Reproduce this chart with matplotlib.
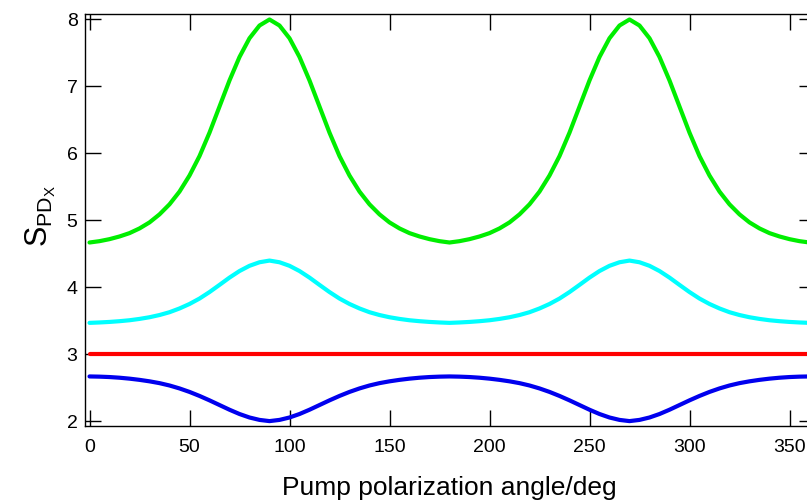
import matplotlib
matplotlib.use("Agg")
import matplotlib.pyplot as plt

plt.rcParams['font.family'] = ['Liberation Sans', 'DejaVu Sans']
plt.rcParams['mathtext.fontset'] = 'custom'
plt.rcParams['mathtext.rm'] = 'Liberation Sans'
plt.rcParams['mathtext.it'] = 'Liberation Sans'

angle = list(range(0, 361, 5))

green = [4.670, 4.690, 4.720, 4.760, 4.810, 4.880, 4.970, 5.090, 5.240, 5.430, 5.670, 5.960, 6.310, 6.700, 7.090, 7.440, 7.720, 7.910, 8.000,
         7.910, 7.720, 7.440, 7.090, 6.700, 6.310, 5.960, 5.670, 5.430, 5.240, 5.090, 4.970, 4.880, 4.810, 4.760, 4.720, 4.690, 4.670,
         4.690, 4.720, 4.760, 4.810, 4.880, 4.970, 5.090, 5.240, 5.430, 5.670, 5.960, 6.310, 6.700, 7.090, 7.440, 7.720, 7.910, 8.000,
         7.910, 7.720, 7.440, 7.090, 6.700, 6.310, 5.960, 5.670, 5.430, 5.240, 5.090, 4.970, 4.880, 4.810, 4.760, 4.720, 4.690, 4.670]

cyan = [3.470, 3.476, 3.484, 3.495, 3.509, 3.529, 3.554, 3.587, 3.629, 3.685, 3.752, 3.833, 3.930, 4.037, 4.146, 4.244, 4.322, 4.375, 4.400,
        4.375, 4.322, 4.244, 4.146, 4.037, 3.930, 3.833, 3.752, 3.685, 3.629, 3.587, 3.554, 3.529, 3.509, 3.495, 3.484, 3.476, 3.470,
        3.476, 3.484, 3.495, 3.509, 3.529, 3.554, 3.587, 3.629, 3.685, 3.752, 3.833, 3.930, 4.037, 4.146, 4.244, 4.322, 4.375, 4.400,
        4.375, 4.322, 4.244, 4.146, 4.037, 3.930, 3.833, 3.752, 3.685, 3.629, 3.587, 3.554, 3.529, 3.509, 3.495, 3.484, 3.476, 3.470]

blue = [2.670, 2.667, 2.661, 2.651, 2.637, 2.619, 2.597, 2.570, 2.535, 2.491, 2.439, 2.379, 2.313, 2.243, 2.173, 2.109, 2.057, 2.021, 2.003,
        2.021, 2.057, 2.109, 2.173, 2.243, 2.313, 2.379, 2.439, 2.491, 2.535, 2.570, 2.597, 2.619, 2.637, 2.651, 2.661, 2.667, 2.670,
        2.667, 2.661, 2.651, 2.637, 2.619, 2.597, 2.570, 2.535, 2.491, 2.439, 2.379, 2.313, 2.243, 2.173, 2.109, 2.057, 2.021, 2.003,
        2.021, 2.057, 2.109, 2.173, 2.243, 2.313, 2.379, 2.439, 2.491, 2.535, 2.570, 2.597, 2.619, 2.637, 2.651, 2.661, 2.667, 2.670]

red_x = [0, 360]
red = [3.0, 3.0]

xticks = [0, 50, 100, 150, 200, 250, 300, 350]
yticks = [2, 3, 4, 5, 6, 7, 8]

W, H = 807, 504
fig = plt.figure(figsize=(W / 100, H / 100), dpi=100)
ax = fig.add_axes([84.5 / W, (H - 426) / H, 730 / W, 412 / H])

lw = 3.0
style = dict(lw=lw, solid_capstyle='round', solid_joinstyle='round')
ax.plot(angle, green, color='#00ee00', **style)
ax.plot(angle, cyan, color='#00ffff', **style)
ax.plot(red_x, red, color='#ff0000', **style)
ax.plot(angle, blue, color='#0000ee', **style)

ax.set_xlim(-2.5, 362.5)
ax.set_ylim(1.93, 8.082)
ax.set_xticks(xticks)
ax.set_yticks(yticks)
ax.tick_params(direction='in', length=11.5, width=1.0, top=True, right=True,
               labelsize=14, color='black')
ax.tick_params(axis='x', pad=9)
ax.tick_params(axis='y', pad=5)
for s in ax.spines.values():
    s.set_linewidth(1.0)
    s.set_color('black')

ax.set_xlabel('Pump polarization angle/deg', fontsize=19)
ax.xaxis.set_label_coords(0.5, -0.122)
ax.set_ylabel(r'$\mathrm{S}_{\mathrm{PD}_{\mathrm{X}}}$', fontsize=22)
ax.yaxis.set_label_coords(-0.036, 0.51)

fig.savefig('out.png', dpi=100)
